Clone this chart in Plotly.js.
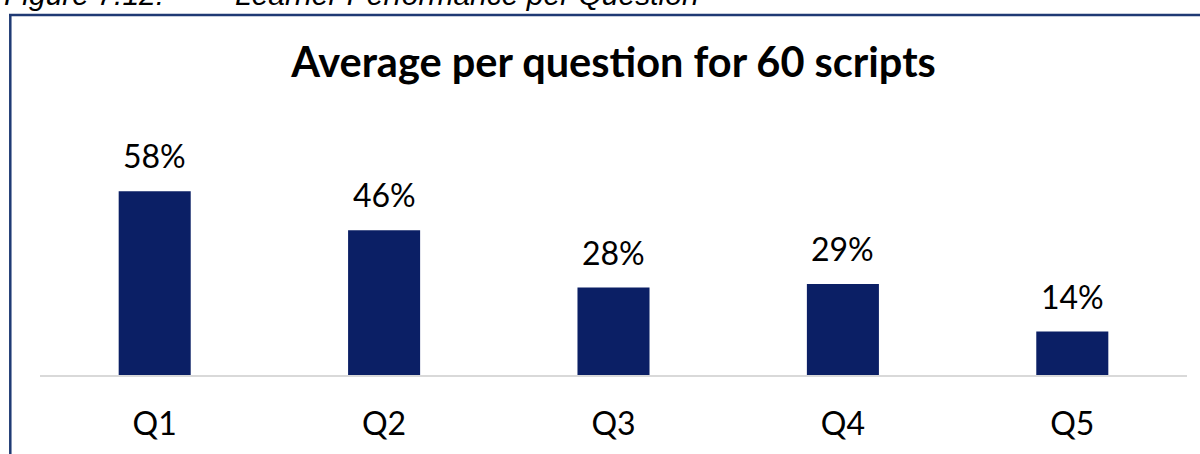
<!DOCTYPE html>
<html>
<head>
<meta charset="utf-8">
<script src="https://cdn.plot.ly/plotly-3.0.1.min.js"></script>
<style>
  html, body { margin: 0; padding: 0; background: #ffffff; }
  #chart { width: 1200px; height: 454px; }
</style>
</head>
<body>
<div id="chart"></div>
<script>
// ---- data ----
const questions = ["Q1", "Q2", "Q3", "Q4", "Q5"];
const averages = [0.58, 0.457, 0.276, 0.287, 0.137];
const chartTitle = "Average per question for 60 scripts";
const figureNumber = "Figure 7.12:";
const figureCaption = "Learner Performance per Question";

// ---- layout helpers (pixel -> paper) ----
const W = 1200, H = 454;
const M = { l: 40, r: 13, t: 100, b: 79 };
const PW = W - M.l - M.r, PH = H - M.t - M.b;
const px2x = p => (p - M.l) / PW;
const py2y = p => (H - M.b - p) / PH;

const barColor = "#0b1f65";
const borderColor = "#1f3a74";
const font = "Lato, 'Open Sans', sans-serif";

const trace = {
  type: "bar",
  x: questions,
  y: averages,
  marker: { color: barColor },
  hoverinfo: "x+y"
};

const labelAnnotations = questions.map((q, i) => ({
  x: q, y: averages[i], xref: "x", yref: "y",
  text: Math.round(averages[i] * 100) + "%",
  showarrow: false, yanchor: "bottom", yshift: 14,
  font: { family: font, size: 32, color: "#000000" }
}));

const captionAnnotations = [
  { text: figureNumber, x: px2x(2), xanchor: "left" },
  { text: figureCaption, x: px2x(233), xanchor: "left" }
].map(a => Object.assign(a, {
  xref: "paper", yref: "paper", y: py2y(13), yanchor: "bottom",
  showarrow: false,
  font: { family: "'Liberation Sans', Arial, sans-serif", size: 30, color: "#000000", style: "italic" }
}));

const layout = {
  width: W, height: H,
  margin: M,
  paper_bgcolor: "#ffffff",
  plot_bgcolor: "#ffffff",
  showlegend: false,
  bargap: 0.686,
  title: {
    text: "<b>" + chartTitle + "</b>",
    x: 0.5, xref: "paper", xanchor: "center",
    y: 1 - 62 / H, yref: "container", yanchor: "middle",
    font: { family: font, size: 41.5, color: "#000000" }
  },
  xaxis: {
    type: "category",
    range: [-0.5, 4.5],
    showline: true, linecolor: "#d9d9d9", linewidth: 1.5,
    showgrid: false, zeroline: false,
    ticks: "", ticklabelstandoff: 20,
    tickfont: { family: font, size: 32, color: "#000000" },
    fixedrange: true
  },
  yaxis: {
    range: [0, 0.8675],
    visible: false, showgrid: false, zeroline: false,
    fixedrange: true
  },
  annotations: labelAnnotations.concat(captionAnnotations),
  shapes: [
    { type: "line", xref: "paper", yref: "paper",
      x0: px2x(10.3), x1: px2x(10.3), y0: py2y(15), y1: py2y(470),
      line: { color: borderColor, width: 2.5 } },
    { type: "line", xref: "paper", yref: "paper",
      x0: px2x(9), x1: px2x(1215), y0: py2y(15), y1: py2y(15),
      line: { color: borderColor, width: 2.5 } }
  ]
};

Plotly.newPlot("chart", [trace], layout, { displayModeBar: false, staticPlot: false });
</script>
</body>
</html>
